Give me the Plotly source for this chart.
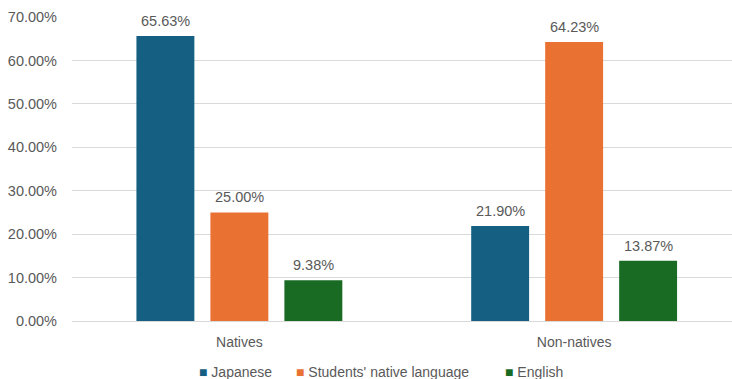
import plotly.graph_objects as go

groups = ["Natives", "Non-natives"]
series_names = ["Japanese", "Students' native language", "English"]
japanese = [65.63, 21.90]
native_language = [25.00, 64.23]
english = [9.38, 13.87]
series_values = [japanese, native_language, english]
colors = ["#156082", "#E97132", "#196B24"]

FONT = "Liberation Sans, Arial, sans-serif"
TEXT_COLOR = "#595959"

BARGAP = 0.337
BARGROUPGAP = 0.217
SLOT = (1 - BARGAP) / len(series_names)

fig = go.Figure()
for name, vals, col in zip(series_names, series_values, colors):
    fig.add_trace(go.Bar(
        x=groups,
        y=vals,
        name=name,
        marker=dict(color=col, line=dict(width=0)),
        showlegend=False,
    ))

# value labels above each bar
for si, vals in enumerate(series_values):
    offset = (si - (len(series_names) - 1) / 2) * SLOT
    for gi, v in enumerate(vals):
        fig.add_annotation(
            x=gi + offset, y=v, xref="x", yref="y",
            text=f"{v:.2f}%", showarrow=False,
            yanchor="bottom", yshift=5,
            font=dict(family=FONT, size=14.5, color=TEXT_COLOR),
        )

# legend row: coloured square followed by the series name
legend_left = [197, 294, 503]
for name, col, px in zip(series_names, colors, legend_left):
    fig.add_annotation(
        x=(px - 72) / 660, y=-0.1678, xref="paper", yref="paper",
        xanchor="left", yanchor="middle", showarrow=False,
        text=f"<span style='color:{col}'>■</span> {name}",
        font=dict(family=FONT, size=14, color=TEXT_COLOR),
    )

fig.update_layout(
    width=732,
    height=379,
    margin=dict(l=72, r=0, t=17, b=58),
    paper_bgcolor="white",
    plot_bgcolor="white",
    barmode="group",
    bargap=BARGAP,
    bargroupgap=BARGROUPGAP,
    font=dict(family=FONT, size=14, color=TEXT_COLOR),
    showlegend=False,
)

fig.update_xaxes(
    range=[-0.5, 1.4716],
    automargin=False,
    showgrid=False,
    showline=True,
    linecolor="#D9D9D9",
    linewidth=1,
    ticks="",
    tickfont=dict(family=FONT, size=14, color=TEXT_COLOR),
    ticklabelstandoff=8,
)

fig.update_yaxes(
    range=[0, 70],
    automargin=False,
    dtick=10,
    tickformat=".2f",
    ticksuffix="%",
    showgrid=True,
    gridcolor="#D9D9D9",
    gridwidth=1,
    zeroline=False,
    showline=False,
    ticks="",
    tickfont=dict(family=FONT, size=14.5, color=TEXT_COLOR),
    ticklabelstandoff=14,
)

fig.write_html("out.html")
